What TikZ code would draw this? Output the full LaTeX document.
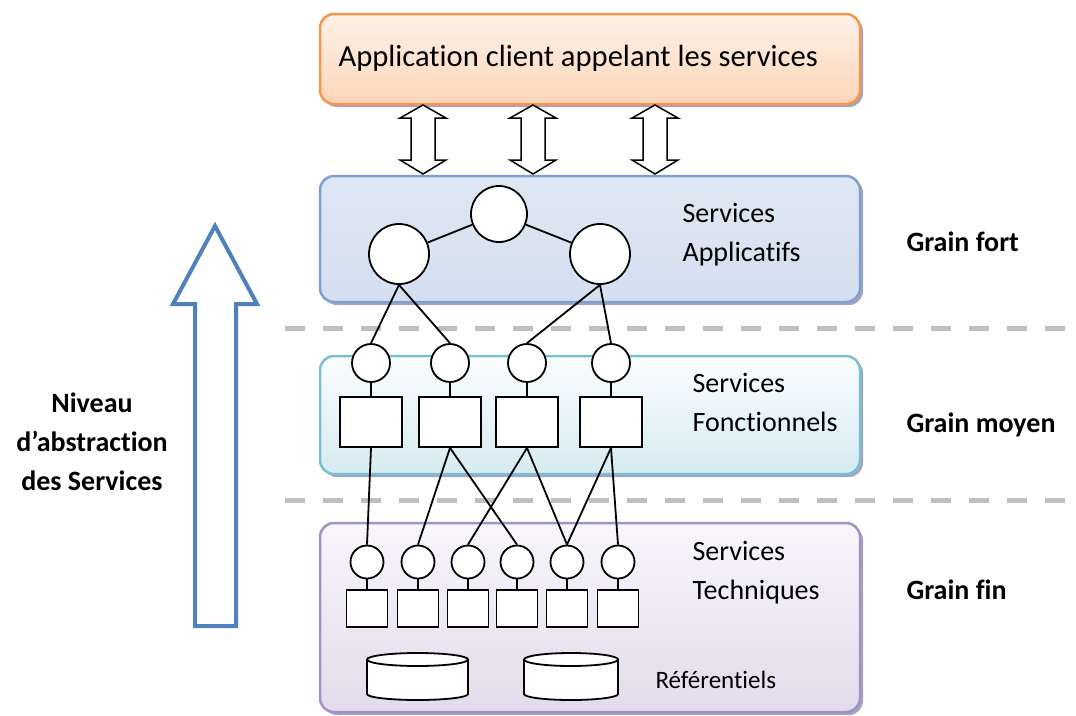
\documentclass[tikz,border=0pt]{standalone}
\usepackage{fontspec}
\setmainfont{Carlito}[Ligatures=CommonOff]
\usetikzlibrary{shadows}

\definecolor{clientline}{RGB}{247,150,70}
\definecolor{clienttop}{RGB}{254,241,232}
\definecolor{clientbot}{RGB}{251,214,184}
\definecolor{appline}{RGB}{126,159,207}
\definecolor{apptop}{RGB}{222,231,243}
\definecolor{appmid}{RGB}{238,243,250}
\definecolor{appbot}{RGB}{212,223,240}
\definecolor{fctline}{RGB}{121,191,209}
\definecolor{fcttop}{RGB}{250,253,254}
\definecolor{fctbot}{RGB}{214,235,242}
\definecolor{techline}{RGB}{163,145,196}
\definecolor{techtop}{RGB}{248,246,251}
\definecolor{techbot}{RGB}{226,219,236}
\definecolor{levelblue}{RGB}{79,129,189}
\definecolor{sepgray}{RGB}{191,191,191}

\begin{document}
\begin{tikzpicture}[x=1pt,y=-1pt,
  layer/.style={draw,line width=2.5pt,rounded corners=14pt,minimum width=540pt,
    drop shadow={shadow xshift=3pt,shadow yshift=-3pt,fill=gray!80!blue,opacity=0.6}},
  svc/.style={circle,draw,fill=white,line width=1.8pt,inner sep=0pt},
  comp/.style={rectangle,draw,fill=white,line width=1.8pt,inner sep=0pt},
  link/.style={line width=1.8pt},
  txt/.style={font=\fontsize{28}{39}\selectfont,align=left,anchor=west},
  grain/.style={font=\fontsize{28}{39}\selectfont\bfseries,anchor=base west}]

  \useasboundingbox (0,0) rectangle (1076,715);

  % Separations between the grain levels
  \draw[sepgray,line width=5pt,dash pattern=on 20pt off 18pt] (285,328) -- (1076,328);
  \draw[sepgray,line width=5pt,dash pattern=on 20pt off 18pt] (285,500) -- (1076,500);

  % The four layers
  \node[layer,draw=clientline,top color=clienttop,bottom color=clientbot,
    minimum height=90pt] (client) at (590,59) {};
  \node[layer,draw=appline,top color=apptop,middle color=appmid,bottom color=appbot,
    minimum height=126pt] (appli) at (590,239) {};
  \node[layer,draw=fctline,top color=fcttop,bottom color=fctbot,
    minimum height=118pt] (fonct) at (590,415) {};
  \node[layer,draw=techline,top color=techtop,bottom color=techbot,
    minimum height=189pt] (tech) at (590,617.5) {};

  \node[anchor=base west,font=\fontsize{30.6}{36}\selectfont] (titre) at (335,66)
    {Application client appelant les services};

  % Calls between client and services
  \foreach \cx in {423,533,655}{
    \draw[line width=1.5pt,fill=white] (\cx,105) -- (\cx+23,118) -- (\cx+12,118)
      -- (\cx+12,160) -- (\cx+23,160) -- (\cx,174) -- (\cx-23,160) -- (\cx-12,160)
      -- (\cx-12,118) -- (\cx-23,118) -- cycle;
  }

  % Applicatifs
  \node[svc,minimum size=56pt] (a0) at (499,214) {};
  \node[svc,minimum size=60pt] (a1) at (399,254) {};
  \node[svc,minimum size=60pt] (a2) at (600,254) {};
  \draw[link] (a0) -- (a1);
  \draw[link] (a0) -- (a2);

  % Fonctionnels
  \foreach \i/\x in {1/371,2/450,3/527,4/611}{
    \node[svc,minimum size=38pt] (f\i) at (\x,363) {};
    \node[comp,minimum width=62pt,minimum height=50pt] (fs\i) at (\x,422) {};
    \draw[link] (f\i) -- (fs\i);
  }
  \draw[link] (a1.south) -- (f1.north);
  \draw[link] (a1.south) -- (f2.north);
  \draw[link] (a2.south) -- (f3.north);
  \draw[link] (a2.south) -- (f4.north);

  % Techniques
  \foreach \i/\x in {1/367,2/418,3/468,4/517,5/567,6/618}{
    \node[svc,minimum size=33pt] (t\i) at (\x,562) {};
    \node[comp,minimum width=41pt,minimum height=37pt] (ts\i) at (\x,608.5) {};
    \draw[link] (t\i) -- (ts\i);
  }
  \foreach \s/\t in {1/1,2/2,2/4,3/3,3/5,4/5,4/6}
    \draw[link] (fs\s.south) -- (t\t.north);

  % Referentiels
  \foreach \cx/\rx in {417.5/50.5,571/47}{
    \draw[link,fill=white] (\cx-\rx,659.5) -- (\cx-\rx,694)
      arc[start angle=180,end angle=0,x radius=\rx,y radius=6] -- (\cx+\rx,659.5);
    \draw[link,fill=white] (\cx,659.5) ellipse[x radius=\rx,y radius=6.5];
  }

  % Labels of the layers
  \node[txt] (lapp) at (679,234.5) {Services\\Applicatifs};
  \node[txt] (lfct) at (689,402.5) {Services\\Fonctionnels};
  \node[txt] (ltech) at (689,572.5) {Services\\Techniques};
  \node[anchor=west,font=\fontsize{25}{30}\selectfont] (lref) at (652,680) {Référentiels};

  \node[grain] (gfort) at (903,251) {Grain fort};
  \node[grain] (gmoyen) at (903,432) {Grain moyen};
  \node[grain] (gfin) at (903,599) {Grain fin};

  % Abstraction level
  \draw[levelblue,line width=4pt,fill=white] (215,226) -- (257,304) -- (236,304)
    -- (236,626) -- (195,626) -- (195,304) -- (173,304) -- cycle;
  \node[align=center,font=\fontsize{28}{39}\selectfont\bfseries] (niveau) at (92,442)
    {Niveau\\d’abstraction\\des Services};

\end{tikzpicture}
\end{document}
